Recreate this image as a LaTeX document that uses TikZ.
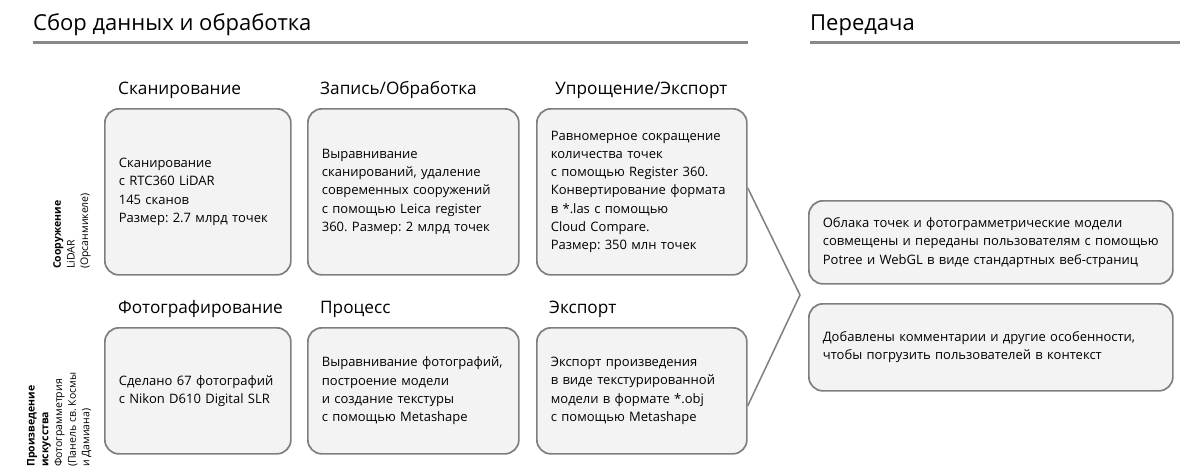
\documentclass[tikz,border=0pt]{standalone}
\usepackage{fontspec}
\setmainfont{Open Sans}
\usetikzlibrary{positioning}
\definecolor{boxgray}{HTML}{7F7F7F}
\definecolor{boxfill}{HTML}{F3F3F3}
\definecolor{rulegray}{HTML}{888888}
\frenchspacing

\begin{document}
\begin{tikzpicture}[x=1pt,y=-1pt,
  box/.style={draw=boxgray, line width=1.7pt, fill=boxfill, rounded corners=14pt,
    anchor=north west, align=left, inner xsep=14pt, inner ysep=0pt,
    font=\fontsize{13}{18.3}\selectfont},
  head/.style={anchor=base west, inner sep=0pt, font=\fontsize{17.2}{20}\selectfont},
  title/.style={anchor=base west, inner sep=0pt, font=\fontsize{22}{26}\selectfont},
  side/.style={rotate=90, anchor=north west, align=left, inner sep=0pt,
    font=\fontsize{10.5}{13.7}\selectfont},
  rule/.style={draw=rulegray, line width=3pt},
  link/.style={draw=boxgray, line width=1.5pt}]
\useasboundingbox (0,0) rectangle (1200,472);

% section titles
\node[title] (T1) at (33,30) {Сбор данных и обработка};
\node[title] (T2) at (810,30) {Передача};
\draw[rule] (33,42) -- (748,42);
\draw[rule] (810,42) -- (1180,42);

% headings
\node[head] (H1) at (118,94) {Сканирование};
\node[head] (H2) at (320,94) {Запись/Обработка};
\node[head] (H3) at (555,94) {Упрощение/Экспорт};
\node[head] (H4) at (118,313) {Фотографирование};
\node[head] (H5) at (320,313) {Процесс};
\node[head] (H6) at (549,313) {Экспорт};

% row labels
\node[side] (L1) at (53,269) {\textbf{Сооружение}\\LiDAR\\(Орсанмикеле)};
\node[side] (L2) at (27,467) {\textbf{Произведение}\\\textbf{искусства}\\Фотограмметрия\\(Панель св. Космы\\и Дамиана)};

% LiDAR row
\node[box, text width=158pt, minimum height=166pt] (S1) at (104,108)
  {Сканирование\\с RTC360 LiDAR\\145 сканов\\Размер: 2.7 млрд точек};
\node[box, text width=183pt, minimum height=166pt] (S2) at (307,108)
  {Выравнивание\\сканирований, удаление\\современных сооружений\\с помощью Leica register\\360. Размер: 2 млрд точек};
\node[box, text width=182pt, minimum height=166pt] (S3) at (536,108)
  {Равномерное сокращение\\количества точек\\с помощью Register 360.\\Конвертирование формата\\в *.las с помощью\\Cloud Compare.\\Размер: 350 млн точек};

% photo row
\node[box, text width=158pt, minimum height=126pt] (F1) at (104,327)
  {Сделано 67 фотографий\\с Nikon D610 Digital SLR};
\node[box, text width=183pt, minimum height=126pt] (F2) at (307,327)
  {Выравнивание фотографий,\\построение модели\\и создание текстуры\\с помощью Metashape};
\node[box, text width=182pt, minimum height=126pt] (F3) at (536,327)
  {Экспорт произведения\\в виде текстурированной\\модели в формате *.obj\\с помощью Metashape};

% delivery
\node[box, text width=336pt, minimum height=83pt] (P1) at (808,200)
  {Облака точек и фотограмметрические модели\\совмещены и переданы пользователям с помощью\\Potree и WebGL в виде стандартных веб-страниц};
\node[box, text width=336pt, minimum height=87pt] (P2) at (808,303)
  {Добавлены комментарии и другие особенности,\\чтобы погрузить пользователей в контекст};

\coordinate (apex) at (800,295);
\draw[link] ([yshift=4pt]S3.east) -- (apex) -- ([yshift=-15pt]F3.east);

\end{tikzpicture}
\end{document}
